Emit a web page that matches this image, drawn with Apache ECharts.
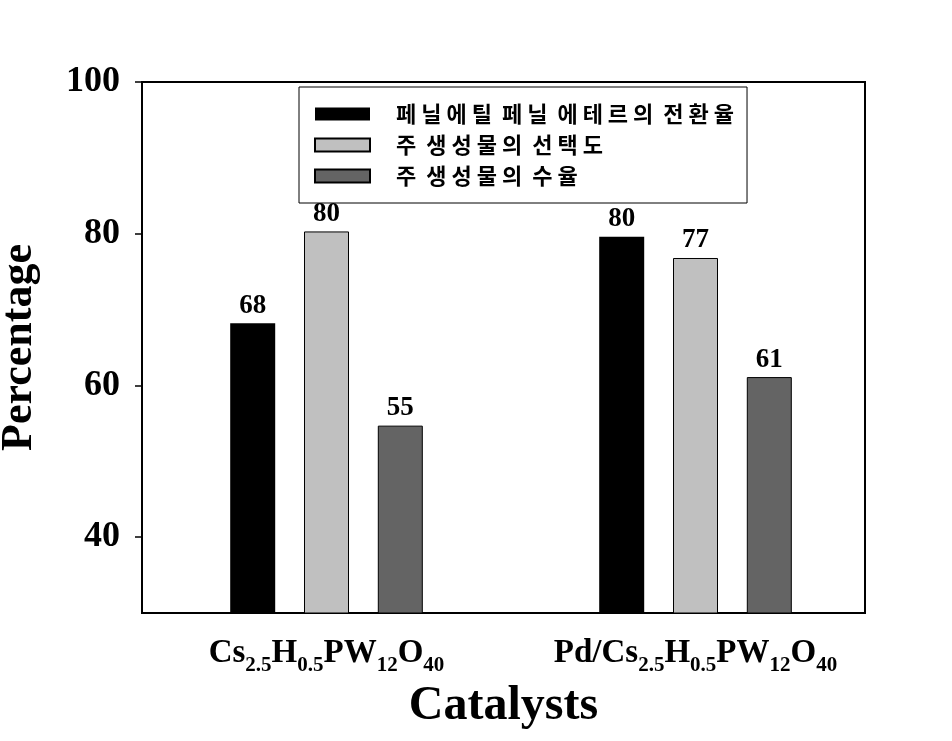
<!DOCTYPE html>
<html><head><meta charset="utf-8">
<script src="https://cdn.jsdelivr.net/npm/echarts@6/dist/echarts.min.js"></script>
<style>html,body{margin:0;padding:0;background:#fff}#c{width:952px;height:741px}</style>
</head><body><div id="c"></div>
<script>
const categories = ['Cs2.5H0.5PW12O40', 'Pd/Cs2.5H0.5PW12O40'];
const seriesNames = ['페닐에틸 페닐 에테르의 전환율', '주 생성물의 선택도', '주 생성물의 수율'];
const conversion = [68.2, 79.6];
const selectivity = [80.3, 76.8];
const yieldVals = [54.7, 61.1];
const yTicks = [40, 60, 80, 100];
const yMin = 30, yMax = 100;
const colors = ['#000000', '#c0c0c0', '#646464'];

const serif = '"Liberation Serif", "Times New Roman", serif';
function richName(n) {
  return n.replace(/([A-Za-z\/]+)/g, '{m|$1}').replace(/(\d+(\.\d+)?)/g, '{s|$1}');
}
function spaced(n) {
  return n.split(' ').map(w => w.split('').join(' ')).join('  ');
}
const chart = echarts.init(document.getElementById('c'));
const allData = [conversion, selectivity, yieldVals];
chart.setOption({
  animation: false,
  backgroundColor: '#fff',
  grid: [
    {left: 142, top: 82, width: 723, height: 531, show: true, borderColor: '#000', borderWidth: 2, backgroundColor: 'transparent', containLabel: false, outerBoundsMode: 'none'},
    {left: 142, top: 82, width: 738, height: 531, containLabel: false, outerBoundsMode: 'none'}
  ],
  legend: {
    orient: 'vertical', left: 299, top: 87,
    data: seriesNames,
    itemWidth: 55, itemHeight: 13, itemGap: 9,
    icon: 'rect',
    padding: [16, 13, 16, 15],
    borderColor: '#000', borderWidth: 1,
    formatter: spaced,
    textStyle: {fontFamily: '"Noto Sans CJK KR", sans-serif', fontWeight: 'bold', fontSize: 22, lineHeight: 22, color: '#000', padding: [0, 0, 0, 21]}
  },
  xAxis: [
    {gridIndex: 0, type: 'category', data: categories,
     name: 'Catalysts', nameLocation: 'middle', nameGap: 70,
     nameTextStyle: {fontFamily: serif, fontWeight: 'bold', fontSize: 48, color: '#000', verticalAlign: 'top'},
     axisLine: {show: false}, axisTick: {show: false}, axisLabel: {show: false}},
    {gridIndex: 1, type: 'category', data: categories,
     axisLine: {show: false}, axisTick: {show: false},
     axisLabel: {show: true, interval: 0, hideOverlap: false, margin: 24, formatter: richName, color: '#000',
       fontFamily: serif, fontWeight: 'bold', fontSize: 32,
       rich: {
         m: {fontFamily: serif, fontWeight: 'bold', fontSize: 33, lineHeight: 36, verticalAlign: 'top', color: '#000'},
         s: {fontFamily: serif, fontWeight: 'bold', fontSize: 21, lineHeight: 21, verticalAlign: 'top', padding: [18, 0, 0, 0], color: '#000'}
       }}}
  ],
  yAxis: [
    {gridIndex: 0, type: 'value', min: yMin, max: yMax,
     name: 'Percentage', nameLocation: 'middle', nameGap: 100,
     nameTextStyle: {fontFamily: serif, fontWeight: 'bold', fontSize: 44, color: '#000'},
     axisLine: {show: true, lineStyle: {color: '#000', width: 2}},
     axisTick: {show: true, inside: false, length: 7, customValues: yTicks, lineStyle: {color: '#000', width: 1.5}},
     axisLabel: {customValues: yTicks, margin: 22, color: '#000', fontFamily: serif, fontWeight: 'bold', fontSize: 36},
     splitLine: {show: false}},
    {gridIndex: 1, type: 'value', min: yMin, max: yMax, show: false, splitLine: {show: false}}
  ],
  series: seriesNames.map((n, i) => ({
    name: n, type: 'bar', xAxisIndex: 1, yAxisIndex: 1,
    data: allData[i], barWidth: 45, barGap: '64%',
    itemStyle: {color: colors[i], borderColor: '#000', borderWidth: i === 0 ? 0 : 1},
    label: {show: true, position: 'top', distance: 4, formatter: p => Math.round(p.value),
      fontFamily: serif, fontWeight: 'bold', fontSize: 27, color: '#000'}
  }))
});
</script></body></html>
